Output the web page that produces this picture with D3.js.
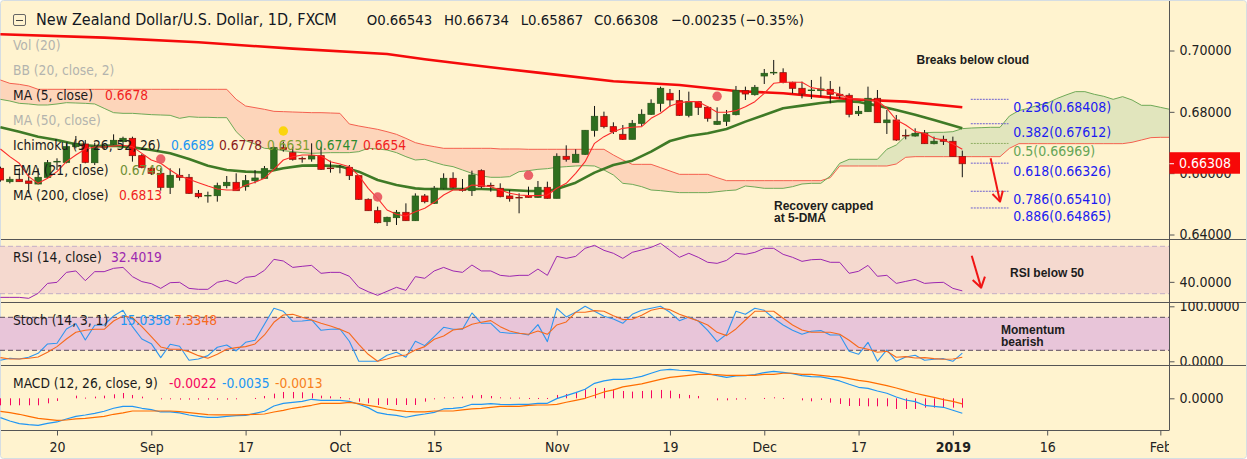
<!DOCTYPE html>
<html>
<head>
<meta charset="utf-8">
<script src="https://d3js.org/d3.v7.min.js"></script>
<style>
  html, body { margin: 0; padding: 0; background: #fff; }
  text { font-family: "DejaVu Sans Condensed", "DejaVu Sans", sans-serif; }
  .note { font-family: "Liberation Sans", Arial, sans-serif; font-weight: bold; font-size: 12px; fill: #1c1c1c; }
</style>
</head>
<body>
<svg id="chart" width="1247" height="459"></svg>
<script>
// bars run from index -6 up to 96, index 0 is 20 Aug 2018
var opens = [0.66158,0.65723,0.65799,0.65745,0.65647,0.65864,0.66365,0.66353,0.66864,0.66951,0.66342,0.66854,0.66940,0.67027,0.67136,0.66571,0.66158,0.65995,0.65538,0.65929,0.65864,0.65342,0.65256,0.65266,0.65592,0.65701,0.65560,0.65755,0.65832,0.66147,0.66832,0.66669,0.66483,0.66462,0.66571,0.66168,0.66202,0.66190,0.65919,0.65147,0.64777,0.64418,0.64549,0.64723,0.64451,0.65256,0.65017,0.65506,0.65832,0.65461,0.65430,0.66082,0.65603,0.65506,0.65256,0.65211,0.65267,0.65212,0.65538,0.65180,0.66549,0.66354,0.66615,0.67397,0.67854,0.67517,0.67267,0.67104,0.67625,0.67919,0.68278,0.68604,0.68365,0.67886,0.68332,0.68147,0.67593,0.67691,0.67908,0.68691,0.68560,0.69169,0.69268,0.69278,0.68963,0.68767,0.68692,0.68691,0.68734,0.68571,0.68539,0.67941,0.68006,0.68441,0.67647,0.67734,0.67233,0.67212,0.67299,0.66962,0.67104,0.67039,0.66543];
var highs = [0.66212,0.65886,0.66158,0.65995,0.66158,0.66429,0.66484,0.66973,0.67212,0.67082,0.66995,0.66919,0.67266,0.67190,0.67190,0.66625,0.66190,0.66158,0.66158,0.66158,0.65973,0.65451,0.65397,0.65690,0.65908,0.65995,0.65940,0.66103,0.66234,0.66864,0.67027,0.66864,0.66538,0.66973,0.66864,0.66408,0.66266,0.66266,0.65940,0.65179,0.64908,0.64581,0.64799,0.65016,0.65342,0.65321,0.65582,0.65995,0.66028,0.65810,0.66082,0.66125,0.65691,0.65669,0.65451,0.65343,0.65560,0.65745,0.65723,0.66647,0.66908,0.66778,0.67408,0.68191,0.68006,0.67658,0.67571,0.67734,0.68082,0.68408,0.68821,0.68745,0.68712,0.68658,0.68354,0.68191,0.68147,0.68060,0.68843,0.68821,0.68876,0.69397,0.69691,0.69419,0.68984,0.68984,0.69039,0.69147,0.69006,0.68821,0.68604,0.68191,0.68821,0.68712,0.68060,0.67897,0.67430,0.67462,0.67408,0.67191,0.67223,0.67191,0.66734];
var lows = [0.65723,0.65668,0.65723,0.65342,0.65636,0.65832,0.66103,0.66321,0.66810,0.66321,0.66266,0.66788,0.66919,0.66864,0.66375,0.66158,0.65940,0.65429,0.65321,0.65755,0.65321,0.65179,0.65038,0.65071,0.65505,0.65429,0.65429,0.65668,0.65810,0.66103,0.66701,0.66408,0.66342,0.66375,0.66103,0.66016,0.65995,0.65777,0.65125,0.64767,0.64364,0.64277,0.64310,0.64440,0.64440,0.65017,0.64995,0.65473,0.65506,0.65397,0.65256,0.65506,0.65397,0.65212,0.65071,0.64691,0.65201,0.65201,0.65169,0.65180,0.66375,0.66354,0.66593,0.67191,0.67462,0.67278,0.67082,0.67104,0.67539,0.67897,0.68006,0.68169,0.67865,0.67821,0.67897,0.67680,0.67571,0.67539,0.67886,0.68386,0.68528,0.68908,0.69202,0.68930,0.68604,0.68441,0.68419,0.68495,0.68278,0.68441,0.67821,0.67865,0.68006,0.67647,0.67278,0.67049,0.67104,0.67191,0.66951,0.66940,0.66919,0.66543,0.65867];
var closes = [0.65777,0.65799,0.65723,0.65668,0.65864,0.66342,0.66385,0.66864,0.66973,0.66353,0.66864,0.66864,0.67071,0.67136,0.66571,0.66190,0.65995,0.65538,0.65929,0.65864,0.65342,0.65234,0.65276,0.65592,0.65701,0.65429,0.65755,0.65842,0.66147,0.66832,0.66777,0.66451,0.66463,0.66571,0.66125,0.66148,0.66222,0.65919,0.65147,0.64777,0.64386,0.64560,0.64723,0.64451,0.65255,0.65071,0.65506,0.65832,0.65538,0.65441,0.65941,0.65560,0.65583,0.65234,0.65169,0.65191,0.65212,0.65538,0.65180,0.66549,0.66452,0.66615,0.67397,0.67854,0.67517,0.67354,0.67104,0.67625,0.67919,0.68278,0.68767,0.68386,0.67886,0.68332,0.68147,0.67789,0.67691,0.67908,0.68702,0.68582,0.68799,0.69256,0.69288,0.68963,0.68767,0.68582,0.68712,0.68745,0.68571,0.68517,0.67919,0.68017,0.68441,0.67647,0.67734,0.67082,0.67213,0.67299,0.66962,0.67039,0.67039,0.66543,0.66308];

var ma5 = [0.66788,0.66538,0.66321,0.65886,0.65668,0.65832,0.66049,0.66375,0.66592,0.66788,0.66853,0.66853,0.66886,0.66908,0.66864,0.66647,0.66429,0.66321,0.66103,0.65908,0.65799,0.65690,0.65582,0.65484,0.65451,0.65451,0.65603,0.65701,0.65832,0.66125,0.66429,0.66538,0.66592,0.66592,0.66560,0.66375,0.66299,0.66212,0.65919,0.65505,0.65179,0.64799,0.64658,0.64603,0.64745,0.64854,0.65049,0.65288,0.65451,0.65451,0.65615,0.65593,0.65560,0.65451,0.65343,0.65288,0.65267,0.65267,0.65288,0.65506,0.65669,0.65995,0.66375,0.66973,0.67191,0.67354,0.67462,0.67495,0.67517,0.67789,0.67952,0.68191,0.68299,0.68332,0.68332,0.68169,0.67984,0.67984,0.68039,0.68169,0.68332,0.68604,0.68930,0.68963,0.68963,0.68963,0.68789,0.68734,0.68658,0.68582,0.68430,0.68408,0.68386,0.68354,0.68115,0.67734,0.67571,0.67354,0.67299,0.67136,0.67082,0.66952,0.66778];

// the two slow averages, read where their slope changes
var ma200Index = [-6,5,15,25,35,39,44,46,51,59,66,72,77,81,84,90,96];
var ma200 = [0.70528,0.70419,0.70267,0.70060,0.69886,0.69713,0.69528,0.69452,0.69278,0.68995,0.68876,0.68680,0.68604,0.68495,0.68408,0.68332,0.68147];
var ema21Index = [-6,-4,-2,0,2,4,6,8,10,12,14,16,18,20,22,24,26,28,30,32,34,36,38,39,42,45,48,50,52,53,55,57,59,61,63,65,67,69,71,73,75,77,79,81,83,85,87,89,91,93,96];
var ema21 = [0.67495,0.67353,0.67190,0.67082,0.66940,0.66886,0.66897,0.66842,0.66755,0.66647,0.66462,0.66245,0.66103,0.66049,0.66027,0.66158,0.66245,0.66255,0.66223,0.66049,0.65777,0.65614,0.65505,0.65484,0.65484,0.65484,0.65451,0.65419,0.65419,0.65484,0.65691,0.66017,0.66267,0.66408,0.66702,0.67049,0.67212,0.67299,0.67441,0.67680,0.67897,0.68115,0.68202,0.68289,0.68354,0.68321,0.68202,0.68060,0.67908,0.67734,0.67462];

// cloud runs from index -6 to 118, 26 bars past the last candle
var spanA = [0.68408,0.68353,0.68277,0.68256,0.68223,0.68223,0.68256,0.68299,0.68288,0.68277,0.68256,0.68114,0.67973,0.67951,0.67951,0.67929,0.67908,0.67897,0.67886,0.67788,0.67842,0.67821,0.67821,0.67810,0.67810,0.67353,0.67060,0.66951,0.66810,0.66788,0.66734,0.66701,0.66669,0.66647,0.66658,0.66669,0.66669,0.66669,0.66701,0.66810,0.66788,0.66755,0.66669,0.66538,0.66429,
  0.66452,0.66354,0.66267,0.66212,0.66104,0.65995,0.65908,0.65865,0.65865,0.65886,0.66049,0.66082,0.66125,0.66147,0.66191,0.66212,0.66234,0.66245,0.66234,0.66104,0.65941,0.65669,0.65636,0.65560,0.65451,0.65430,0.65397,0.65365,0.65365,0.65365,0.65365,0.65397,0.65430,0.65451,0.65582,0.65549,0.65506,0.65506,0.65506,0.65560,0.65647,0.65669,
  0.65669,0.65908,0.66321,0.66452,0.66452,0.66452,0.66452,0.66778,0.66919,0.67212,0.67278,0.67321,0.67332,0.67332,0.67354,0.67452,0.67473,0.67484,0.67495,0.67495,0.67865,0.68039,0.68115,0.68213,0.68278,0.68430,0.68549,0.68658,0.68658,0.68571,0.68506,0.68408,0.68495,0.68386,0.68213,0.68213,0.68147,0.68082];
var spanB = [0.69038,0.68929,0.68897,0.68843,0.68734,0.68734,0.68734,0.68734,0.68734,0.68734,0.68734,0.68734,0.68734,0.68734,0.68734,0.68734,0.68734,0.68734,0.68734,0.68734,0.68734,0.68734,0.68734,0.68734,0.68734,0.68408,0.68190,0.68136,0.68082,0.68016,0.68006,0.67995,0.67984,0.67973,0.67973,0.67962,0.67951,0.67603,0.67538,0.67484,0.67429,0.67353,0.67266,0.67136,0.66995,
  0.66919,0.66865,0.66810,0.66810,0.66810,0.66810,0.66810,0.66810,0.66789,0.66789,0.66789,0.66778,0.66778,0.66778,0.66778,0.66778,0.66778,0.66778,0.66778,0.66778,0.66593,0.66430,0.66288,0.66288,0.66288,0.66180,0.66071,0.65962,0.65962,0.65962,0.65962,0.65854,0.65756,0.65756,0.65756,0.65756,0.65756,0.65756,0.65756,0.65756,0.65756,0.65756,
  0.65756,0.65854,0.66234,0.66234,0.66234,0.66234,0.66234,0.66234,0.66299,0.66517,0.66538,0.66538,0.66538,0.66538,0.66538,0.66538,0.66538,0.66538,0.66538,0.66538,0.66810,0.66962,0.66962,0.66962,0.66962,0.66962,0.66962,0.66962,0.66962,0.66962,0.66962,0.66962,0.66962,0.67006,0.67082,0.67158,0.67169,0.67169];

var rsi = [26.9,26.9,26.9,26.1,30.3,38.7,39.6,48.0,49.2,41.0,48.6,48.6,51.4,52.2,44.4,40.2,38.5,34.5,39.3,39.6,34.5,33.7,33.7,39.6,41.3,38.5,43.8,44.7,49.7,59.0,57.6,52.2,53.1,53.9,47.2,48.0,48.0,44.7,35.4,31.7,28.6,32.0,35.4,32.8,44.4,
  43.0,49.2,52.2,49.2,48.0,54.2,49.2,49.2,45.5,44.7,45.5,45.5,50.8,45.5,61.5,59.8,61.5,68.3,70.8,66.6,64.1,59.8,64.9,66.9,69.1,72.5,66.6,60.7,64.1,60.7,56.5,55.6,58.1,64.1,63.2,64.9,68.3,68.3,63.2,60.7,57.3,58.7,59.0,56.5,56.5,47.2,48.9,53.9,44.7,45.5,38.7,40.4,42.1,38.7,39.3,39.6,34.5,32.4];
var stochK = [1.8,5.5,4.2,7.3,14.5,31.5,32.7,58.8,68.5,38.8,65.5,66.1,82.4,92.7,63.0,40.6,32.1,6.7,30.9,27.3,1.8,4.2,10.3,25.5,29.7,18.8,34.5,38.2,67.3,96.4,90.9,72.7,73.3,75.1,56.4,58.2,58.8,36.4,0,0,0,10.9,16.4,7.3,36.4,
  28.5,44.8,61.8,58.2,58.2,87.9,69.1,69.1,52.7,50.9,50.9,47.9,66.7,35.8,96.4,80.6,89.1,100,90.9,81.8,77.0,69.1,85.4,92.7,96.4,100,89.1,73.9,80.6,73.3,56.4,35.8,49.1,90.9,85.4,96.4,92.7,78.2,66.1,56.4,49.1,54.5,55.8,47.9,47.9,18.2,12.7,34.5,0,20.6,0,7.9,10.9,1.8,3.6,4.8,0,15.0];
var stochD = [6.7,4.2,4.2,5.5,7.9,16.4,26.7,40.6,52.7,56.4,58.2,58.2,73.3,82.4,79.4,63.0,44.8,26.1,21.8,21.8,17.6,10.3,5.5,12.7,21.8,24.8,26.7,31.5,47.9,70.9,84.2,85.4,80.0,75.1,69.1,64.2,58.2,50.9,30.9,12.7,0,4.2,9.1,11.5,20.6,
  26.7,40.0,46.1,57.0,59.4,67.3,70.9,73.9,63.0,55.1,50.9,49.1,55.1,49.1,66.1,71.5,89.1,89.1,92.1,90.9,83.0,75.8,76.4,83.9,92.7,96.4,93.9,85.4,79.4,73.3,66.1,52.7,46.7,58.8,75.1,90.9,90.9,90.9,78.2,66.1,57.0,52.7,52.7,52.7,49.1,38.2,25.5,21.8,16.4,18.2,7.3,8.5,6.1,6.7,4.8,3.6,4.2,7.3];
var macdLine = [-0.00451,-0.00529,-0.00591,-0.00615,-0.00630,-0.00584,-0.00552,-0.00482,-0.00420,-0.00389,-0.00350,-0.00303,-0.00233,-0.00187,-0.00187,-0.00233,-0.00265,-0.00319,-0.00319,-0.00342,-0.00389,-0.00420,-0.00443,-0.00443,-0.00420,-0.00405,-0.00397,-0.00350,-0.00303,-0.00179,-0.00117,-0.00093,-0.00070,-0.00023,-0.00047,-0.00047,-0.00047,-0.00070,-0.00140,-0.00218,-0.00335,-0.00373,-0.00397,-0.00443,-0.00397,
  -0.00366,-0.00327,-0.00249,-0.00233,-0.00210,-0.00140,-0.00140,-0.00124,-0.00140,-0.00148,-0.00140,-0.00140,-0.00117,-0.00117,-0.00008,0.00062,0.00132,0.00210,0.00350,0.00405,0.00443,0.00443,0.00467,0.00513,0.00584,0.00654,0.00677,0.00654,0.00646,0.00615,0.00576,0.00529,0.00490,0.00521,0.00529,0.00552,0.00599,0.00630,0.00607,0.00576,0.00529,0.00506,0.00498,0.00459,0.00405,0.00327,0.00257,0.00233,0.00171,0.00117,0.00031,-0.00039,-0.00078,-0.00163,-0.00187,-0.00210,-0.00280,-0.00350];
var macdSignal = [-0.00303,-0.00335,-0.00373,-0.00420,-0.00467,-0.00490,-0.00513,-0.00506,-0.00482,-0.00467,-0.00443,-0.00420,-0.00373,-0.00342,-0.00296,-0.00296,-0.00296,-0.00296,-0.00296,-0.00311,-0.00335,-0.00358,-0.00381,-0.00389,-0.00389,-0.00389,-0.00381,-0.00373,-0.00366,-0.00319,-0.00280,-0.00233,-0.00202,-0.00163,-0.00117,-0.00117,-0.00117,-0.00093,-0.00124,-0.00163,-0.00202,-0.00249,-0.00280,-0.00303,-0.00319,
  -0.00319,-0.00296,-0.00296,-0.00296,-0.00272,-0.00249,-0.00233,-0.00210,-0.00187,-0.00187,-0.00187,-0.00163,-0.00156,-0.00156,-0.00140,-0.00093,-0.00047,0,0.00070,0.00148,0.00195,0.00265,0.00303,0.00335,0.00389,0.00443,0.00490,0.00513,0.00537,0.00560,0.00560,0.00552,0.00537,0.00537,0.00537,0.00537,0.00560,0.00560,0.00584,0.00584,0.00560,0.00560,0.00537,0.00513,0.00498,0.00459,0.00420,0.00389,0.00342,0.00296,0.00241,0.00179,0.00117,0.00070,0.00023,-0.00031,-0.00070,-0.00130];
var macdHist = [-0.00163,-0.00163,-0.00163,-0.00163,-0.00163,-0.00117,-0.00062,0,0.00062,0.00016,0.00039,0.00062,0.00093,0.00124,0.00078,0.00039,0,-0.00008,-0.00016,-0.00031,-0.00031,-0.00031,-0.00031,-0.00031,-0.00031,-0.00023,0,0.00008,0.00054,0.00109,0.00148,0.00148,0.00140,0.00117,0.00062,0.00047,0.00031,-0.00016,-0.00078,-0.00117,-0.00156,-0.00156,-0.00156,-0.00156,-0.00156,
  -0.00078,-0.00016,0.00023,0.00023,0.00039,0.00070,0.00078,0.00054,0.00023,0.00016,0.00016,0.00008,0.00008,0.00008,0.00078,0.00101,0.00140,0.00210,0.00241,0.00241,0.00210,0.00171,0.00156,0.00171,0.00187,0.00195,0.00179,0.00101,0.00078,0.00054,0,-0.00047,-0.00047,-0.00031,-0.00023,0,0.00008,0.00023,0.00008,0,-0.00047,-0.00070,-0.00039,-0.00101,-0.00132,-0.00179,-0.00179,-0.00187,-0.00187,-0.00187,-0.00249,-0.00249,-0.00249,-0.00218,-0.00218,-0.00218,-0.00218,-0.00218];

var fibLevels = [0.68408,0.67612,0.66969,0.66326,0.65410,0.64865];
var fibRatios = ["0.236","0.382","0.5","0.618","0.786","0.886"];
var dateTicks = [0,10,20,30,40,53,65,75,85,95,105,117];
var dateLabels = ["20","Sep","17","Oct","15","Nov","19","Dec","17","2019","16","Feb"];
var priceTicks = [0.70,0.68,0.66,0.64];
var redDotIndex = [11,34,50,70];
var redDotPrice = [0.66462,0.65223,0.65930,0.68506];
var yellowDotIndex = [24];
var yellowDotPrice = [0.67375];

var bg = "#fff3cf", gridLine = "#555",
    upFill = "#2f6f1f", upEdge = "#2a5a1c", downFill = "#fa0505", downEdge = "#8d1a12";
var labelSize = "13.7px", axisSize = "14px";
var barIndex = d3.range(-6, 97), spanIndex = d3.range(-6, 119);
var plotRight = 1169;

var svg = d3.select("#chart");
svg.append("rect").attr("x", 0.5).attr("y", 0.5).attr("width", 1246).attr("height", 458)
   .attr("rx", 3).attr("fill", bg).attr("stroke", "#d5dde3");

var x = d3.scaleLinear().domain([0, 96]).range([57, 962.3]);
var yPrice = d3.scaleLinear().domain([0.64, 0.70]).range([234.5, 50.5]);
var yRsi = d3.scaleLinear().domain([30, 70]).range([293.7, 246.3]);
var yStoch = d3.scaleLinear().domain([0, 100]).range([361.3, 306.3]);
var yMacd = d3.scaleLinear().domain([-0.0035, 0]).range([413.3, 398.3]);

var panes = [
  {id: "main", top: 1, bottom: 239},
  {id: "rsi", top: 239, bottom: 302},
  {id: "stoch", top: 302, bottom: 365},
  {id: "macd", top: 365, bottom: 430}
];
var defs = svg.append("defs");
panes.forEach(function(p){
  defs.append("clipPath").attr("id", "clip-" + p.id).append("rect")
      .attr("x", 0).attr("y", p.top).attr("width", plotRight).attr("height", p.bottom - p.top);
  defs.append("clipPath").attr("id", "axis-" + p.id).append("rect")
      .attr("x", plotRight).attr("y", p.top).attr("width", 78).attr("height", p.bottom - p.top);
});
defs.append("clipPath").attr("id", "clip-dates").append("rect")
    .attr("x", 0).attr("y", 430).attr("width", plotRight).attr("height", 29);

var main = svg.append("g").attr("clip-path", "url(#clip-main)");
var rsiG = svg.append("g").attr("clip-path", "url(#clip-rsi)");
var stochG = svg.append("g").attr("clip-path", "url(#clip-stoch)");
var macdG = svg.append("g").attr("clip-path", "url(#clip-macd)");

function drawLine(g, idx, vals, yScale, color, width){
  var line = d3.line().x(function(d){ return x(d[0]); }).y(function(d){ return yScale(d[1]); });
  g.append("path").datum(d3.zip(idx, vals)).attr("d", line)
   .attr("fill", "none").attr("stroke", color).attr("stroke-width", width).attr("stroke-linejoin", "round");
}

// cloud
var cloud = spanIndex.map(function(d, i){ return {i: d, a: spanA[i], b: spanB[i]}; });
var flip = d3.bisector(function(d){ return d.i; }).left(cloud, 82);
var cloudArea = d3.area().x(function(d){ return x(d.i); })
    .y0(function(d){ return yPrice(d.a); }).y1(function(d){ return yPrice(d.b); });
main.append("path").attr("d", cloudArea(cloud.slice(0, flip))).attr("fill", "#fdd5ba");
main.append("path").attr("d", cloudArea(cloud.slice(flip - 1))).attr("fill", "#e1e5bd");
drawLine(main, spanIndex, spanB, yPrice, "#f4604f", 1);
drawLine(main, spanIndex, spanA, yPrice, "#6fa957", 1);

drawLine(main, ma200Index, ma200, yPrice, "#f50a0a", 2.6);
drawLine(main, ema21Index, ema21, yPrice, "#3f7a26", 2.6);

// candles
var bars = barIndex.map(function(d, i){ return {i: d, o: opens[i], h: highs[i], l: lows[i], c: closes[i]}; });
var candle = main.selectAll("g.candle").data(bars).enter().append("g").attr("class", "candle");
candle.append("line")
  .attr("x1", function(d){ return x(d.i); }).attr("x2", function(d){ return x(d.i); })
  .attr("y1", function(d){ return yPrice(d.h); }).attr("y2", function(d){ return yPrice(d.l); })
  .attr("stroke", "#111").attr("stroke-width", 1);
candle.append("rect")
  .attr("x", function(d){ return x(d.i) - 3.2; }).attr("width", 6.4)
  .attr("y", function(d){ return yPrice(Math.max(d.o, d.c)); })
  .attr("height", function(d){ return Math.max(0.6, Math.abs(yPrice(d.o) - yPrice(d.c))); })
  .attr("fill", function(d){ return d.c >= d.o ? upFill : downFill; })
  .attr("stroke", function(d){ return d.c >= d.o ? upEdge : downEdge; })
  .attr("stroke-width", 0.8);

drawLine(main, barIndex, ma5, yPrice, "#fb2b2b", 1.1);

main.selectAll("circle.red").data(d3.zip(redDotIndex, redDotPrice)).enter().append("circle").attr("class", "red")
  .attr("cx", function(d){ return x(d[0]); }).attr("cy", function(d){ return yPrice(d[1]); })
  .attr("r", 4.7).attr("fill", "#e8525c").attr("fill-opacity", 0.9);
main.selectAll("circle.yellow").data(d3.zip(yellowDotIndex, yellowDotPrice)).enter().append("circle").attr("class", "yellow")
  .attr("cx", function(d){ return x(d[0]); }).attr("cy", function(d){ return yPrice(d[1]); })
  .attr("r", 4.7).attr("fill", "#fbd50d");

// fib retracement, lines run from bar 97 to 101
fibLevels.forEach(function(v, i){
  var green = fibRatios[i] == "0.5";
  main.append("line").attr("x1", x(96.9)).attr("x2", x(100.9)).attr("y1", yPrice(v)).attr("y2", yPrice(v))
      .attr("stroke", green ? "#8fae63" : "#6c5fd0").attr("stroke-width", 1).attr("stroke-dasharray", "2,1");
  main.append("text").attr("x", x(101.4)).attr("y", yPrice(v) + 13)
      .attr("font-size", axisSize).attr("fill", green ? "#66a557" : "#1c1cf0")
      .text(fibRatios[i] + "(" + v.toFixed(5) + ")");
});

// drawn arrows
function drawArrow(g, yScale, from, to, wingA, wingB){
  drawLine(g, [from[0], to[0]], [from[1], to[1]], yScale, "#f01414", 2);
  drawLine(g, [wingA[0], to[0], wingB[0]], [wingA[1], to[1], wingB[1]], yScale, "#f01414", 2);
}
drawArrow(main, yPrice, [99.0, 0.66484], [100.0, 0.65071], [99.2, 0.65321], [100.3, 0.65430]);

// RSI pane
rsiG.append("rect").attr("x", 0).attr("width", plotRight).attr("y", yRsi(70)).attr("height", yRsi(30) - yRsi(70)).attr("fill", "#f5d9cf");
[70, 30].forEach(function(v){
  rsiG.append("line").attr("x1", 0).attr("x2", plotRight).attr("y1", yRsi(v)).attr("y2", yRsi(v))
      .attr("stroke", "#c2adc6").attr("stroke-dasharray", "5,3");
});
drawLine(rsiG, barIndex, rsi, yRsi, "#9c27b0", 1);
drawArrow(rsiG, yRsi, [97.0, 62.1], [98.0, 35.1], [97.1, 41.6], [98.4, 44.4]);

// Stoch pane
stochG.append("rect").attr("x", 0).attr("width", plotRight).attr("y", yStoch(80)).attr("height", yStoch(20) - yStoch(80)).attr("fill", "#e8c5d9");
[80, 20].forEach(function(v){
  stochG.append("line").attr("x1", 0).attr("x2", plotRight).attr("y1", yStoch(v)).attr("y2", yStoch(v))
      .attr("stroke", "#5a4d5e").attr("stroke-dasharray", "5,3");
});
drawLine(stochG, barIndex, stochK, yStoch, "#2f96ef", 1.1);
drawLine(stochG, barIndex, stochD, yStoch, "#f76a1c", 1.1);

// MACD pane
macdG.selectAll("rect.hist").data(d3.zip(barIndex, macdHist)).enter().append("rect").attr("class", "hist")
  .attr("x", function(d){ return Math.round(x(d[0])); }).attr("width", 1)
  .attr("y", function(d){ return Math.min(yMacd(0), yMacd(d[1])); })
  .attr("height", function(d){ return d[1] == 0 ? 0 : Math.max(1, Math.abs(yMacd(d[1]) - yMacd(0))); })
  .attr("fill", "#f5065f");
drawLine(macdG, barIndex, macdLine, yMacd, "#2196f3", 1.2);
drawLine(macdG, barIndex, macdSignal, yMacd, "#ff6d00", 1.2);

// pane separators and frame
[239.5, 302.5, 365.5].forEach(function(v){
  svg.append("line").attr("x1", 1).attr("x2", 1246).attr("y1", v).attr("y2", v).attr("stroke", gridLine);
});
svg.append("line").attr("x1", 1).attr("x2", plotRight).attr("y1", 430.5).attr("y2", 430.5).attr("stroke", gridLine);
svg.append("line").attr("x1", plotRight + 0.5).attr("x2", plotRight + 0.5).attr("y1", 1).attr("y2", 430.5).attr("stroke", gridLine);

// axes
function styleAxis(g){
  g.select(".domain").remove();
  g.selectAll(".tick line").attr("stroke", gridLine);
  g.selectAll(".tick text").attr("fill", "#222").attr("font-size", axisSize).attr("font-family", "DejaVu Sans Condensed");
}
function rightAxis(scale, ticks, digits, pane){
  svg.append("g").attr("clip-path", "url(#axis-" + pane + ")")
    .append("g").attr("transform", "translate(" + (plotRight + 0.5) + ",0)")
    .call(d3.axisRight(scale).tickValues(ticks).tickSize(5).tickPadding(5)
      .tickFormat(function(d){ return d.toFixed(digits); }))
    .call(styleAxis);
}
rightAxis(yPrice, priceTicks, 5, "main");
rightAxis(yRsi, [40], 4, "rsi");
rightAxis(yStoch, [0, 100], 4, "stoch");
rightAxis(yMacd, [0], 4, "macd");

svg.append("g").attr("clip-path", "url(#clip-dates)")
  .append("g").attr("transform", "translate(0,430.5)")
  .call(d3.axisBottom(x).tickValues(dateTicks).tickSize(5).tickPadding(7)
    .tickFormat(function(d, i){ return dateLabels[i]; }))
  .call(styleAxis)
  .selectAll(".tick text").attr("font-weight", function(d, i){ return dateLabels[i] == "2019" ? "bold" : "normal"; });

// last price tag
var lastClose = closes[closes.length - 1];
svg.append("rect").attr("x", plotRight + 0.5).attr("width", 70.5).attr("y", yPrice(lastClose) - 11.5).attr("height", 21.5).attr("fill", "#f70808");
svg.append("line").attr("x1", plotRight + 0.5).attr("x2", plotRight + 5).attr("y1", yPrice(lastClose)).attr("y2", yPrice(lastClose)).attr("stroke", "#fff");
svg.append("text").attr("x", plotRight + 10).attr("y", yPrice(lastClose) + 4).attr("font-size", axisSize).attr("fill", "#fff").text(lastClose.toFixed(5));

// legend
function legend(px, py, txt, color){
  svg.append("text").attr("x", px).attr("y", py).attr("font-size", labelSize).attr("fill", color).text(txt);
}
svg.append("rect").attr("x", 13.5).attr("y", 14.5).attr("width", 12).attr("height", 11).attr("rx", 1.5).attr("fill", "none").attr("stroke", "#666");
svg.append("line").attr("x1", 16).attr("x2", 23).attr("y1", 20.5).attr("y2", 20.5).attr("stroke", "#444");
svg.append("text").attr("x", 36).attr("y", 25).attr("font-size", "16px").attr("fill", "#131722").text("New Zealand Dollar/U.S. Dollar, 1D, FXCM");
var ohlcText = ["O0.66543", "H0.66734", "L0.65867", "C0.66308", "\u22120.00235", "(\u22120.35%)"];
var ohlcLeft = [366.7, 444, 520.7, 594, 670.7, 740];
ohlcText.forEach(function(t, i){
  svg.append("text").attr("x", ohlcLeft[i]).attr("y", 25).attr("font-size", "14.8px").attr("fill", "#131722").text(t);
});

legend(13, 50, "Vol (20)", "#b3b3ae");
legend(13, 75, "BB (20, close, 2)", "#b3b3ae");
legend(13, 100, "MA (5, close)", "#1a1a1a");
legend(105, 100, "0.6678", "#f01f1f");
legend(13, 125, "MA (50, close)", "#b3b3ae");
legend(13, 150, "Ichimoku (9, 26, 52, 26)", "#1a1a1a");
legend(171, 150, "0.6689", "#2196f3");
legend(219, 150, "0.6778", "#8b1a1a");
legend(267, 150, "0.6631", "#7f9f2f");
legend(315, 150, "0.6747", "#2e8b2e");
legend(363, 150, "0.6654", "#f01f1f");
legend(13, 175, "EMA (21, close)", "#1a1a1a");
legend(120, 175, "0.6749", "#6f8f35");
legend(13, 200, "MA (200, close)", "#1a1a1a");
legend(119, 200, "0.6813", "#f01f1f");
legend(13, 262, "RSI (14, close)", "#1a1a1a");
legend(111, 262, "32.4019", "#9c27b0");
legend(13, 325, "Stoch (14, 3, 1)", "#1a1a1a");
legend(120, 325, "15.0358", "#2196f3");
legend(174, 325, "7.3348", "#f76a1c");
legend(13, 388, "MACD (12, 26, close, 9)", "#1a1a1a");
legend(169, 388, "-0.0022", "#f5065f");
legend(222, 388, "-0.0035", "#2196f3");
legend(275, 388, "-0.0013", "#f7801c");

// text notes
function note(px, py, txt){
  svg.append("text").attr("class", "note").attr("x", px).attr("y", py).text(txt);
}
note(916.5, 64, "Breaks below cloud");
note(774, 210, "Recovery capped");
note(774, 222, "at 5-DMA");
note(1010, 277, "RSI below 50");
note(1001, 334, "Momentum");
note(1001, 346, "bearish");
</script>
</body>
</html>
